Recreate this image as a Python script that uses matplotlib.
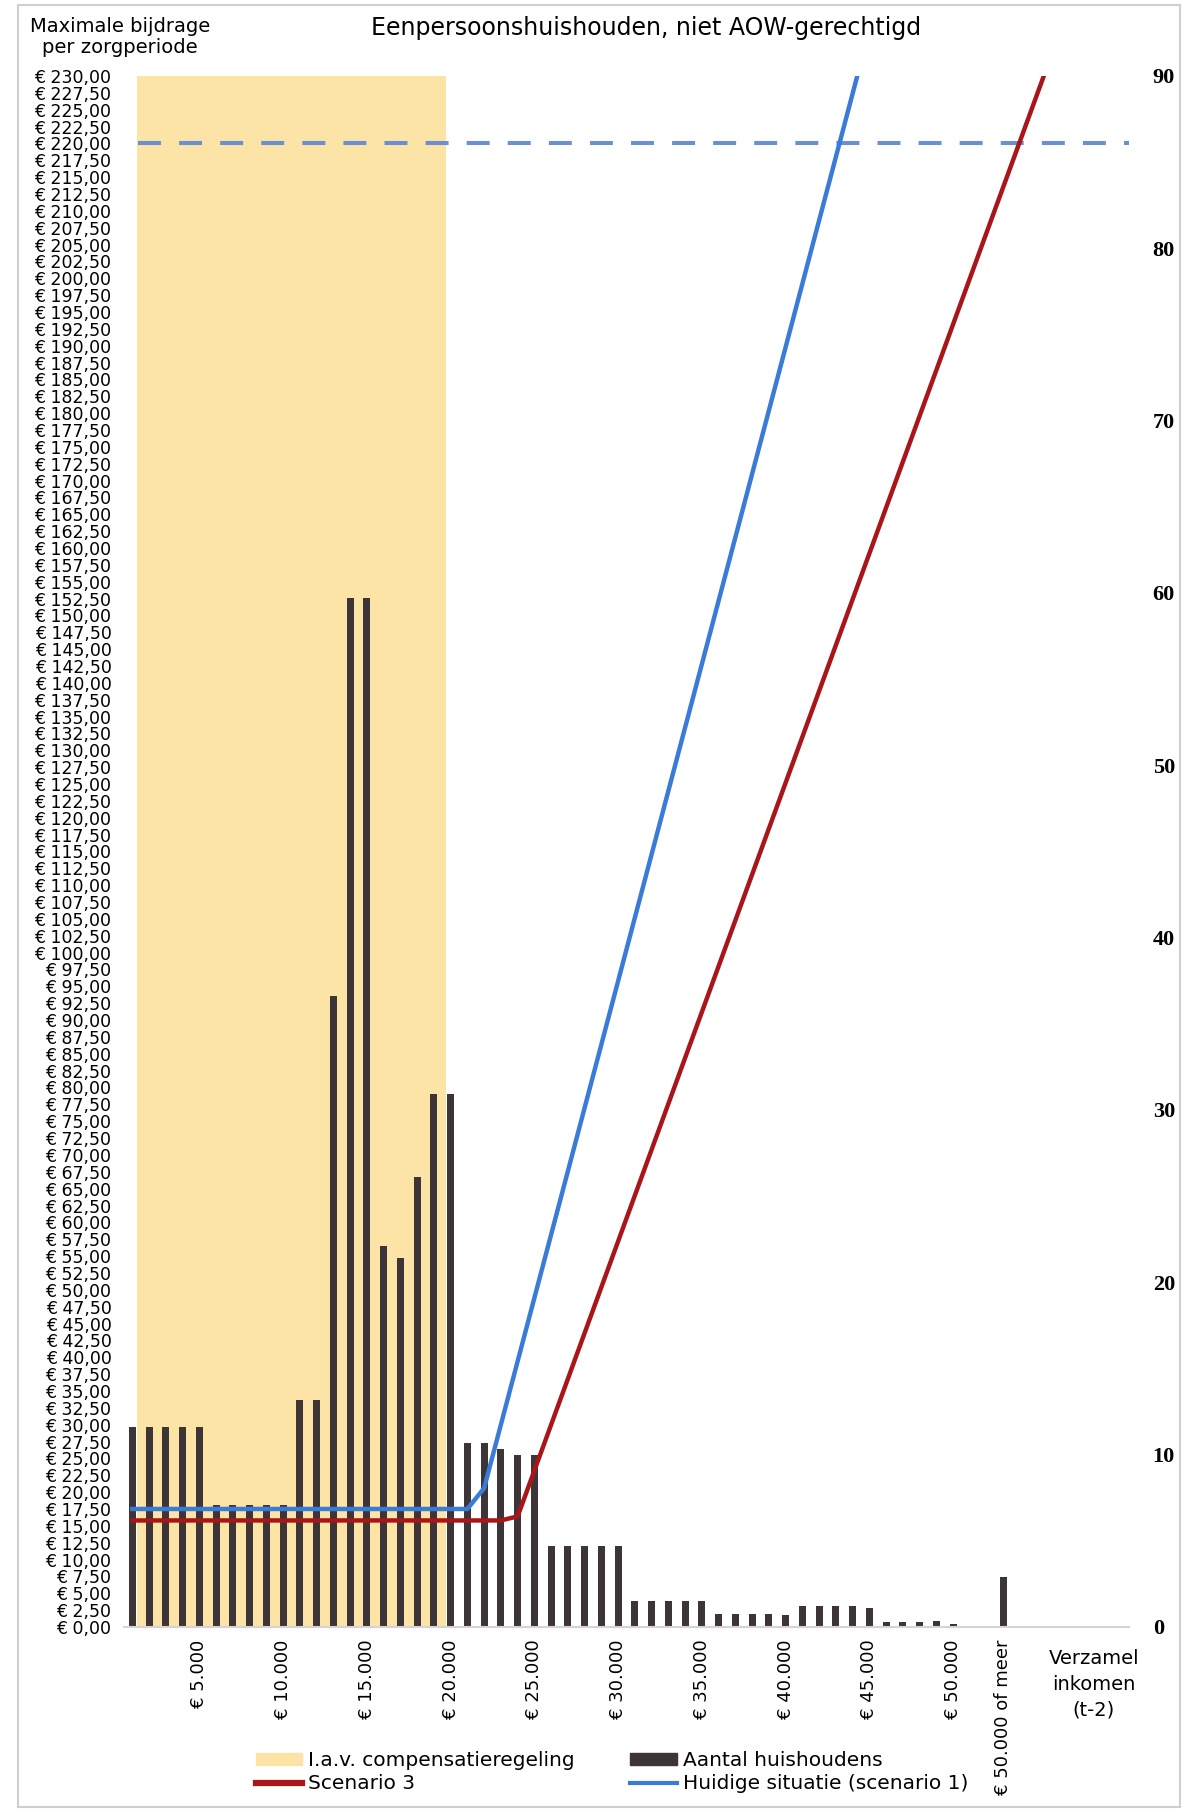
import numpy as np
import matplotlib.pyplot as plt
from matplotlib.patches import Patch, Rectangle
from matplotlib.lines import Line2D

# Aantal huishoudens per inkomensklasse van 1.000 euro (rechter as)
households = [11.6, 11.6, 11.6, 11.6, 11.6,
              7.1, 7.1, 7.1, 7.1, 7.1,
              13.2, 13.2, 36.6, 59.7, 59.7,
              22.1, 21.4, 26.1, 30.9, 30.9,
              10.7, 10.7, 10.3, 10.0, 10.0,
              4.7, 4.7, 4.7, 4.7, 4.7,
              1.5, 1.5, 1.5, 1.5, 1.5,
              0.75, 0.75, 0.75, 0.75, 0.7,
              1.2, 1.2, 1.2, 1.2, 1.1,
              0.3, 0.3, 0.3, 0.35, 0.2,
              0, 0, 2.9, 0, 0,
              0, 0, 0, 0, 0]

# Maximale bijdrage (linker as), knikpunten per scenario
scen1_x = [0, 20, 21, 44]
scen1_y = [17.5, 17.5, 20.6, 236.8]
scen3_x = [0, 22, 23, 55]
scen3_y = [15.8, 15.8, 16.4, 234.0]

compensatie_van, compensatie_tot = 0.3, 18.75
max_bijdrage_lijn = 220.0

xtick_pos = [4, 9, 14, 19, 24, 29, 34, 39, 44, 49, 52]
xtick_labels = ["€ 5.000", "€ 10.000", "€ 15.000", "€ 20.000", "€ 25.000",
                "€ 30.000", "€ 35.000", "€ 40.000", "€ 45.000", "€ 50.000",
                "€ 50.000 of meer"]

BAR_C = "#3d3438"
BEIGE = "#fce3a6"
RED = "#a8161a"
BLUE = "#3a7bd8"
DASH = "#6b8fd4"

fig = plt.figure(figsize=(11.82, 18.12), dpi=100)
ax = fig.add_axes([0.1049, 0.1021, 0.8503, 0.8560])   # bars (counts)
ax2 = ax.twinx()                                      # lines (euro)

x = np.arange(len(households))
ax.axvspan(compensatie_van, compensatie_tot, color=BEIGE, zorder=0, lw=0)
ax.bar(x, households, width=0.42, color=BAR_C, zorder=2)
ax.set_xlim(-0.5, len(households) - 0.5)
ax.set_ylim(0, 90)

ax2.hlines(max_bijdrage_lijn, compensatie_van + 0.05, len(households) - 0.5,
           colors=DASH, lw=2.9, linestyles=(0, (5.7, 4.5)))
ax2.plot(scen3_x, scen3_y, color=RED, lw=3.2, solid_joinstyle='round')
ax2.plot(scen1_x, scen1_y, color=BLUE, lw=3.2, solid_joinstyle='round')
ax2.set_ylim(0, 230)

# counts on the right, euros on the left
ax.yaxis.tick_right()
ax2.yaxis.tick_left()
ax.set_yticks(np.arange(0, 91, 10))
ax.tick_params(axis='y', length=0, pad=17, labelsize=16)
for t in ax.get_yticklabels():
    t.set_fontfamily('Liberation Serif')
    t.set_fontweight('bold')

eur_ticks = np.arange(0, 230.01, 2.5)
ax2.set_yticks(eur_ticks)
ax2.set_yticklabels([("€ %.2f" % v).replace(".", ",") for v in eur_ticks])
ax2.tick_params(axis='y', length=0, pad=9, labelsize=12.5)

ax.set_xticks(xtick_pos)
ax.set_xticklabels(xtick_labels, rotation=90, va='top', ha='center', fontsize=13)
ax.tick_params(axis='x', length=0, pad=9)

for a in (ax, ax2):
    for s in ('top', 'left', 'right'):
        a.spines[s].set_visible(False)
    a.spines['bottom'].set_color('#d4d4d4')
    a.spines['bottom'].set_linewidth(1.5)
ax2.spines['bottom'].set_visible(False)

fig.text(0.547, 0.9845, "Eenpersoonshuishouden, niet AOW-gerechtigd",
         ha='center', va='center', fontsize=17)
fig.text(0.1015, 0.9796, "Maximale bijdrage\nper zorgperiode",
         ha='center', va='center', fontsize=14, linespacing=1.15)
fig.text(0.9255, 0.0706, "Verzamel\ninkomen\n(t-2)",
         ha='center', va='center', fontsize=14, linespacing=1.45)

handles = [Patch(color=BEIGE), Line2D([], [], color=RED, lw=4.5),
           Patch(color=BAR_C), Line2D([], [], color=BLUE, lw=3)]
labels = ["I.a.v. compensatieregeling", "Scenario 3",
          "Aantal huishoudens", "Huidige situatie (scenario 1)"]
fig.legend(handles, labels, ncol=2, loc='upper left',
           bbox_to_anchor=(0.2166, 0.0335), frameon=False, fontsize=14.5,
           handlelength=2.3, handleheight=0.55, handletextpad=0.3,
           columnspacing=2.75, labelspacing=0.2, borderpad=0, borderaxespad=0)

fig.patches.append(Rectangle((0.0152, 0.003), 0.983, 0.994, transform=fig.transFigure,
                             fill=False, edgecolor='#cfcfcf', lw=1.5))

fig.savefig("out.png", dpi=100)
